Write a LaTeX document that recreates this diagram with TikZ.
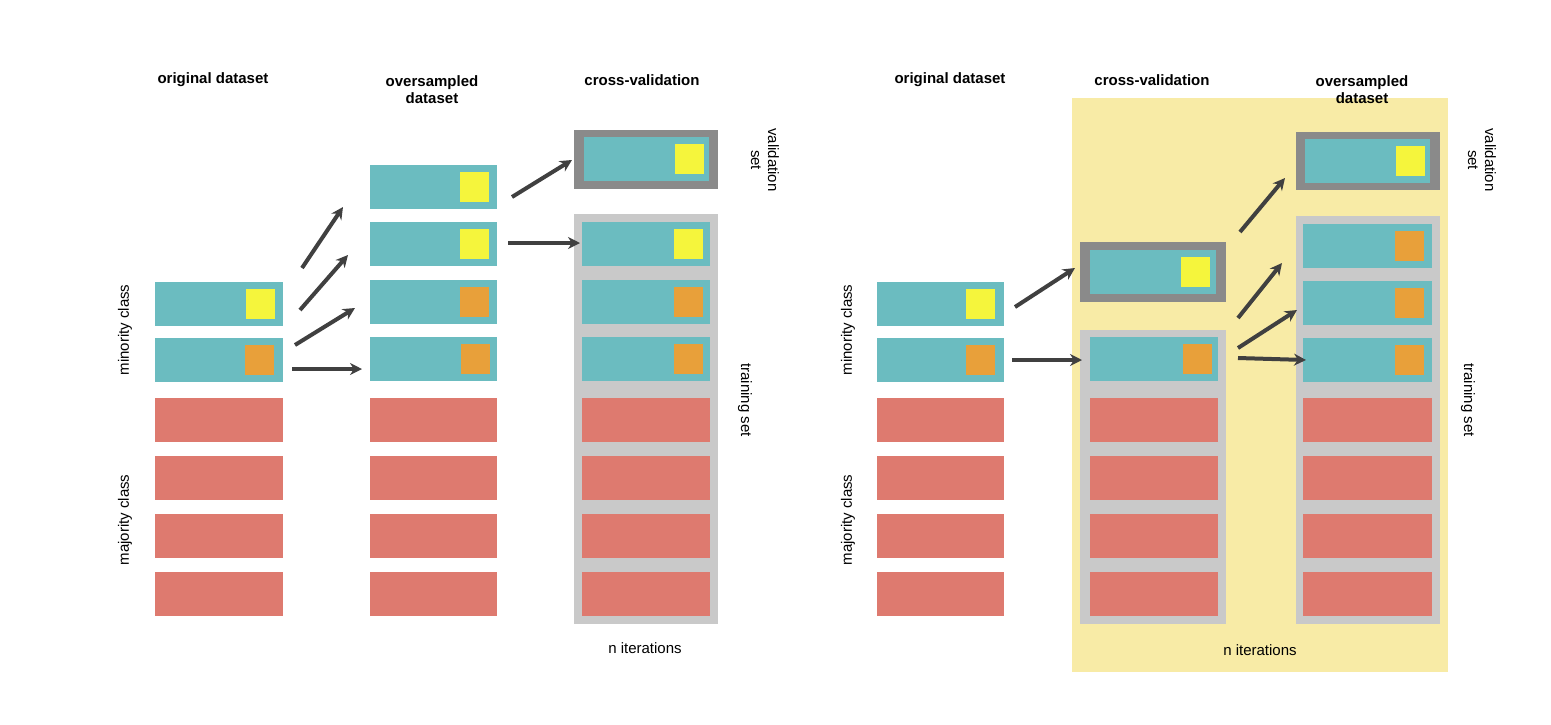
\documentclass[tikz,border=0pt]{standalone}
\usepackage{fontspec}
\setmainfont{Liberation Sans}
\usetikzlibrary{arrows.meta}
\definecolor{rowblue}{HTML}{6BBCC0}
\definecolor{rowred}{HTML}{DE7A6F}
\definecolor{sqyellow}{HTML}{F5F53C}
\definecolor{sqorange}{HTML}{E8A03A}
\definecolor{boxgray}{HTML}{C9C9C9}
\definecolor{valgray}{HTML}{8A8A8A}
\definecolor{bgyellow}{HTML}{F8EBA6}
\tikzset{
  head/.style={font=\fontsize{15}{17}\selectfont\bfseries, align=center},
  side/.style={font=\fontsize{15}{17}\selectfont, rotate=90},
  sider/.style={font=\fontsize{15}{17}\selectfont, rotate=-90, align=center},
  move/.style={line width=4pt, draw=black!75, -{Stealth[length=12pt,width=12pt]}},
}
% blue row with a square, red row
\newcommand{\bluerow}[5]{\fill[rowblue] (#1,#2) rectangle (#3,#2+44);
  \fill[#4] (#5,#2+7) rectangle (#5+29,#2+37);}
\newcommand{\redrow}[3]{\fill[rowred] (#1,#2) rectangle (#3,#2+44);}
\begin{document}
\begin{tikzpicture}[x=1pt,y=-1pt]
        \useasboundingbox [fill=white] (0,0) rectangle (1551,724);
        \fill [bgyellow] (1072,98) rectangle (1448,672);               % iterations
        % left panel
        \node [head] (lorig) at (213,80)   {original dataset};
        \node [head] (lover) at (432,90)   {oversampled\\dataset};
        \node [head] (lcv)   at (642,80)   {cross-validation};
        \node [side] (lmin)  at (125,330)  {minority class};
        \node [side] (lmaj)  at (125,520)  {majority class};
        \node [sider] (lval) at (765,160)  {validation\\set};
        \node [sider] (ltr)  at (745,400)  {training set};
        \node (lit) at (645,648) {\fontsize{15}{17}\selectfont n iterations};
        \bluerow{155}{282}{283}{sqyellow}{246}
        \bluerow{155}{338}{283}{sqorange}{245}
        \foreach \y in {398,456,514,572} {\redrow{155}{\y}{283}}
        \bluerow{370}{165}{497}{sqyellow}{460}
        \bluerow{370}{222}{497}{sqyellow}{460}
        \bluerow{370}{280}{497}{sqorange}{460}
        \bluerow{370}{337}{497}{sqorange}{461}
        \foreach \y in {398,456,514,572} {\redrow{370}{\y}{497}}
        \fill [valgray] (574,130) rectangle (718,189);
        \bluerow{584}{137}{709}{sqyellow}{675}
        \fill [boxgray] (574,214) rectangle (718,624);
        \bluerow{582}{222}{710}{sqyellow}{674}
        \bluerow{582}{280}{710}{sqorange}{674}
        \bluerow{582}{337}{710}{sqorange}{674}
        \foreach \y in {398,456,514,572} {\redrow{582}{\y}{710}}
        \coordinate (a1) at (302,268); \coordinate (b1) at (343,207);
        \coordinate (a2) at (300,310); \coordinate (b2) at (348,255);
        \coordinate (a3) at (295,345); \coordinate (b3) at (355,308);
        \coordinate (a4) at (292,369); \coordinate (b4) at (362,369);
        \coordinate (a5) at (512,197); \coordinate (b5) at (572,160);
        \coordinate (a6) at (508,243); \coordinate (b6) at (580,243);
        \foreach \i in {1,...,6} {\draw [move] (a\i) -- (b\i);}
        % right panel
        \node [head] (rorig) at (950,80)   {original dataset};
        \node [head] (rcv)   at (1152,80)  {cross-validation};
        \node [head] (rover) at (1362,90)  {oversampled\\dataset};
        \node [side] (rmin)  at (848,330)  {minority class};
        \node [side] (rmaj)  at (848,520)  {majority class};
        \node [sider] (rval) at (1482,160) {validation\\set};
        \node [sider] (rtr)  at (1468,400) {training set};
        \node (rit) at (1260,650) {\fontsize{15}{17}\selectfont n iterations};
        \bluerow{877}{282}{1004}{sqyellow}{966}
        \bluerow{877}{338}{1004}{sqorange}{966}
        \foreach \y in {398,456,514,572} {\redrow{877}{\y}{1004}}
        \fill [valgray] (1080,242) rectangle (1226,302);
        \bluerow{1090}{250}{1216}{sqyellow}{1181}
        \fill [boxgray] (1080,330) rectangle (1226,624);
        \bluerow{1090}{337}{1218}{sqorange}{1183}
        \foreach \y in {398,456,514,572} {\redrow{1090}{\y}{1218}}
        \fill [valgray] (1296,132) rectangle (1440,190);
        \bluerow{1305}{139}{1430}{sqyellow}{1396}
        \fill [boxgray] (1296,216) rectangle (1440,624);
        \bluerow{1303}{224}{1432}{sqorange}{1395}
        \bluerow{1303}{281}{1432}{sqorange}{1395}
        \bluerow{1303}{338}{1432}{sqorange}{1395}
        \foreach \y in {398,456,514,572} {\redrow{1303}{\y}{1432}}
        \coordinate (c1) at (1015,307); \coordinate (d1) at (1075,268);
        \coordinate (c2) at (1012,360); \coordinate (d2) at (1082,360);
        \coordinate (c3) at (1240,232); \coordinate (d3) at (1285,178);
        \coordinate (c4) at (1238,318); \coordinate (d4) at (1282,263);
        \coordinate (c5) at (1238,348); \coordinate (d5) at (1297,310);
        \coordinate (c6) at (1238,358); \coordinate (d6) at (1306,360);
        \foreach \i in {1,...,6} {\draw [move] (c\i) -- (d\i);}
\end{tikzpicture}
\end{document}
